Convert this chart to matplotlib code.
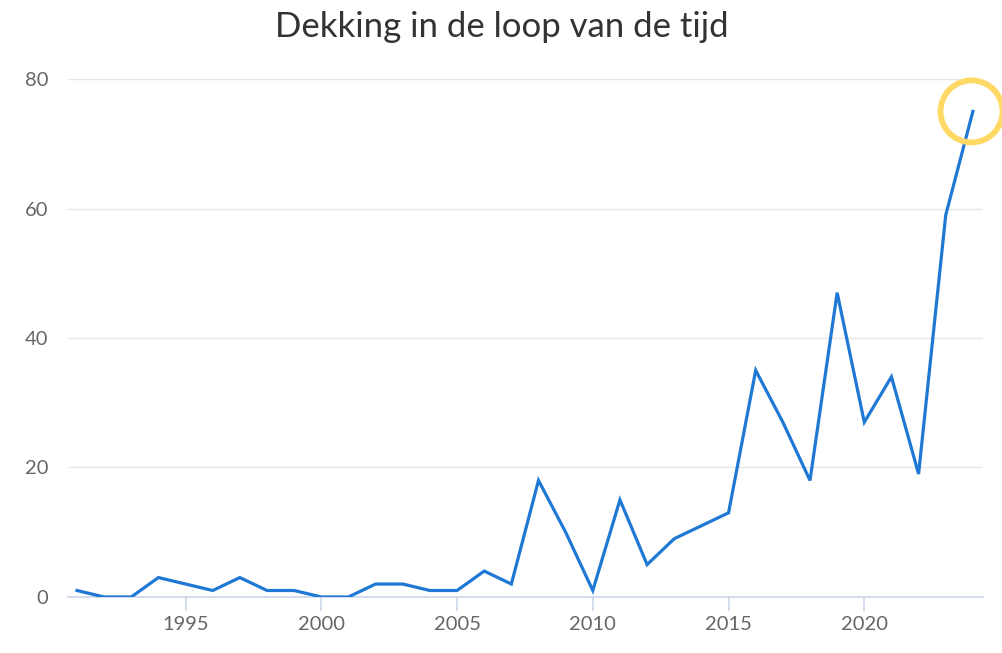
import matplotlib
matplotlib.use("Agg")
import matplotlib.pyplot as plt
from matplotlib.patches import Ellipse

years = list(range(1991, 2025))
coverage = [1, 0, 0, 3, 2, 1, 3, 1, 1, 0, 0, 2, 2, 1, 1, 4, 2, 18, 10, 1,
            15, 5, 9, 11, 13, 35, 27, 18, 47, 27, 34, 19, 59, 75]
xticks = [1995, 2000, 2005, 2010, 2015, 2020]
yticks = [0, 20, 40, 60, 80]

LINE, GRID, AXIS, LABEL, TITLE = "#1f78d4", "#e6e6e6", "#ccd6eb", "#666666", "#333333"

plt.rcParams.update({"font.family": ["Lato", "DejaVu Sans"]})
fig = plt.figure(figsize=(10.03, 6.53), dpi=100)
ax = fig.add_axes([0.0678, 0.0858, 0.9122, 0.7932])

fig.text(0.5, 0.958, "Dekking in de loop van de tijd", ha="center", va="center",
         fontsize=25, color=TITLE)

ax.plot(years, coverage, color=LINE, lw=2.3, solid_joinstyle="miter", zorder=3)

# highlight ring round the latest value (radius in pixels, kept round)
x0, x1 = 1990.67, 2024.37
ax.set_xlim(x0, x1)
ax.set_ylim(0, 80)
px_x = (x1 - x0) / (0.9122 * 1003)
px_y = 80 / (0.7932 * 653)
r = 31
ax.add_patch(Ellipse((years[-1] - 0.05, coverage[-1]), 2 * r * px_x, 2 * r * px_y,
                     fill=False, ec="#ffd966", lw=4.2, clip_on=False, zorder=4))

ax.set_xticks(xticks)
ax.set_yticks(yticks)
ax.grid(True, axis="y", color=GRID, lw=1.0)
ax.set_axisbelow(True)
for s in ("top", "right", "left"):
    ax.spines[s].set_visible(False)
ax.spines["bottom"].set_color(AXIS)
ax.spines["bottom"].set_linewidth(1.2)
ax.tick_params(axis="x", length=10, width=1.2, color=AXIS, labelcolor=LABEL,
               labelsize=14.5, pad=4)
ax.tick_params(axis="y", length=0, labelcolor=LABEL, labelsize=14.5, pad=14)

fig.savefig("out.png", dpi=100, facecolor="white")
